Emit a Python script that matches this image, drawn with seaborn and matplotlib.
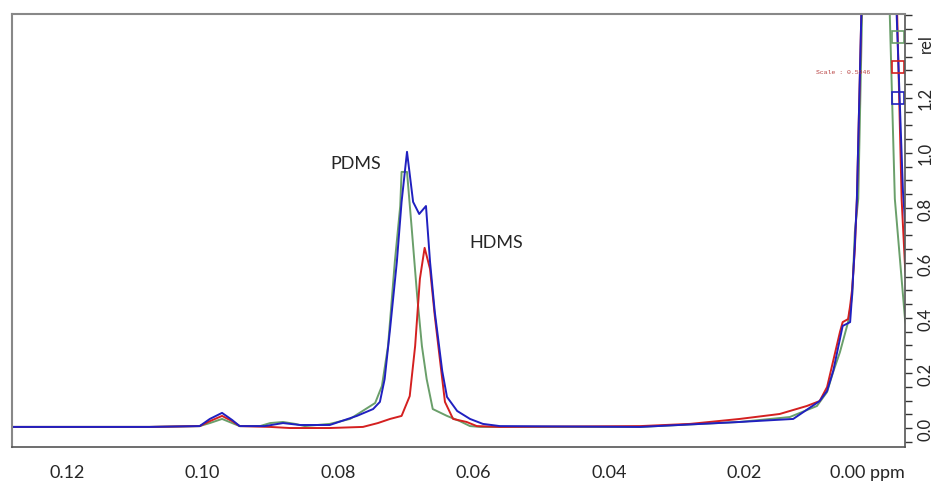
import matplotlib
matplotlib.use("Agg")
import matplotlib.pyplot as plt
import matplotlib.transforms as mtransforms
from matplotlib.ticker import MultipleLocator
import numpy as np
import pandas as pd
import seaborn as sns

# spectra (ppm, rel. intensity)
ppm_green = [0.1281, 0.1078, 0.1004, 0.0989, 0.0971, 0.0956, 0.0945, 0.0915, 0.0900, 0.0881,
             0.0863, 0.0849, 0.0812, 0.0782, 0.0745, 0.0735, 0.0726, 0.0716, 0.0708, 0.0706,
             0.0698, 0.0691, 0.0683, 0.0676, 0.0669, 0.0660, 0.0639, 0.0620, 0.0605, 0.0590,
             0.0413, 0.0354, 0.0207, 0.0133, 0.0093, 0.0078, 0.0069, 0.0059, 0.0047, 0.0041,
             0.0037, 0.0032, 0.0026, 0.0000, -0.0014, -0.0022, -0.0037, -0.0044]
int_green = [0.004, 0.004, 0.007, 0.018, 0.033, 0.018, 0.007, 0.007, 0.018, 0.022,
             0.015, 0.007, 0.015, 0.033, 0.091, 0.153, 0.298, 0.604, 0.807, 0.931,
             0.931, 0.724, 0.480, 0.298, 0.178, 0.069, 0.044, 0.025, 0.007, 0.004,
             0.004, 0.004, 0.022, 0.040, 0.080, 0.131, 0.204, 0.276, 0.385, 0.480,
             0.713, 0.833, 1.55, 3.0, 1.55, 0.833, 0.396, 0.30]

ppm_red = [0.1281, 0.1078, 0.1004, 0.0989, 0.0971, 0.0956, 0.0945, 0.0900, 0.0871, 0.0812,
           0.0763, 0.0741, 0.0723, 0.0706, 0.0694, 0.0686, 0.0679, 0.0672, 0.0664, 0.0657,
           0.0649, 0.0642, 0.0630, 0.0610, 0.0595, 0.0561, 0.0354, 0.0280, 0.0207, 0.0148,
           0.0108, 0.0089, 0.0078, 0.0069, 0.0059, 0.0055, 0.0047, 0.0044, 0.0041, 0.0037,
           0.0034, 0.0027, 0.0000, -0.0025, -0.0032, -0.0037, -0.0044]
int_red = [0.004, 0.004, 0.007, 0.025, 0.044, 0.025, 0.007, 0.004, 0.000, 0.000,
           0.004, 0.018, 0.033, 0.044, 0.116, 0.298, 0.542, 0.655, 0.578, 0.407,
           0.240, 0.095, 0.033, 0.022, 0.007, 0.004, 0.007, 0.015, 0.033, 0.051,
           0.080, 0.098, 0.149, 0.244, 0.349, 0.385, 0.396, 0.444, 0.505, 0.651,
           0.833, 1.55, 3.0, 1.55, 0.833, 0.589, 0.42]

ppm_blue = [0.1281, 0.1078, 0.1004, 0.0989, 0.0971, 0.0956, 0.0945, 0.0908, 0.0881, 0.0856,
            0.0812, 0.0772, 0.0748, 0.0738, 0.0731, 0.0723, 0.0713, 0.0706, 0.0698, 0.0689,
            0.0680, 0.0670, 0.0664, 0.0657, 0.0646, 0.0639, 0.0624, 0.0605, 0.0586, 0.0561,
            0.0354, 0.0207, 0.0128, 0.0089, 0.0078, 0.0069, 0.0055, 0.0044, 0.0041, 0.0037,
            0.0034, 0.0027, 0.0000, -0.0024, -0.0034, -0.0039]
int_blue = [0.004, 0.004, 0.007, 0.033, 0.055, 0.029, 0.007, 0.007, 0.018, 0.011,
            0.011, 0.044, 0.069, 0.095, 0.178, 0.360, 0.604, 0.822, 1.004, 0.822,
            0.778, 0.807, 0.604, 0.422, 0.207, 0.113, 0.062, 0.033, 0.015, 0.007,
            0.004, 0.022, 0.033, 0.098, 0.135, 0.207, 0.371, 0.385, 0.487, 0.669,
            0.833, 1.55, 3.0, 1.55, 0.86, 0.68]

# integral markers near the right edge
mark_ppm = [-0.0027, -0.0027, -0.0027]
mark_int = [1.42, 1.313, 1.20]
mark_colors = ["#6a9f6a", "#d42020", "#2020c0"]

x_ticks = [0.12, 0.10, 0.08, 0.06, 0.04, 0.02, 0.00]
x_labels = ["0.12", "0.10", "0.08", "0.06", "0.04", "0.02", "0.00 ppm"]
y_ticks = [0.0, 0.2, 0.4, 0.6, 0.8, 1.0, 1.2, 1.4]
y_labels = ["0.0", "0.2", "0.4", "0.6", "0.8", "1.0", "1.2", "rel"]

df = pd.concat([
    pd.DataFrame({"ppm": ppm_green, "rel": int_green, "s": "green"}),
    pd.DataFrame({"ppm": ppm_red, "rel": int_red, "s": "red"}),
    pd.DataFrame({"ppm": ppm_blue, "rel": int_blue, "s": "blue"}),
], ignore_index=True)
colors = {"green": "#6a9f6a", "red": "#d42020", "blue": "#2020c0"}

sns.set_style("white")
plt.rcParams["font.family"] = ["Lato", "DejaVu Sans"]

fig = plt.figure(figsize=(9.34, 4.85), dpi=100)
ax = fig.add_axes([12 / 934, 37 / 485, 893 / 934, 433 / 485])

for name in ["green", "red", "blue"]:
    sns.lineplot(data=df[df["s"] == name], x="ppm", y="rel", sort=False, estimator=None,
                 color=colors[name], linewidth=1.4, ax=ax)

for xm, ym, cm in zip(mark_ppm, mark_int, mark_colors):
    ax.plot([xm], [ym], marker="s", markersize=8, mfc="none", mec=cm, mew=1.2)

ax.text(0.0014, 1.295, "Scale : 0.5946", color="#b84040", fontsize=4.6,
        family="Liberation Mono", ha="right", va="center")
ax.text(0.0773, 0.965, "PDMS", fontsize=13, ha="center", va="center")
ax.text(0.0566, 0.675, "HDMS", fontsize=13, ha="center", va="center")

ax.set_xlim(0.1281, -0.0037)
ax.set_ylim(-0.069, 1.505)

ax.set_xticks(x_ticks)
ax.set_xticklabels(x_labels, fontsize=13)
ax.xaxis.set_minor_locator(MultipleLocator(0.005))
ax.yaxis.tick_right()
ax.set_yticks(y_ticks)
ax.set_yticklabels(y_labels, fontsize=12, rotation=90, va="center")
ax.yaxis.set_minor_locator(MultipleLocator(0.05))
ax.tick_params(axis="both", which="both", direction="out", length=5, width=1, color="#333333")
ax.tick_params(axis="x", which="major", pad=7)
ax.tick_params(axis="y", which="major", pad=4)
ax.set_xlabel("")
ax.set_ylabel("")

# shift "0.00 ppm" so it ends at the axis edge
last = ax.get_xticklabels()[-1]
last.set_horizontalalignment("right")
last.set_transform(last.get_transform() + mtransforms.ScaledTranslation(0.25, 0, fig.dpi_scale_trans))

for side in ["top", "left"]:
    ax.spines[side].set_color("#888888")
    ax.spines[side].set_linewidth(1.5)
for side in ["bottom", "right"]:
    ax.spines[side].set_color("#555555")
    ax.spines[side].set_linewidth(1.2)

fig.savefig("out.png", dpi=100)
